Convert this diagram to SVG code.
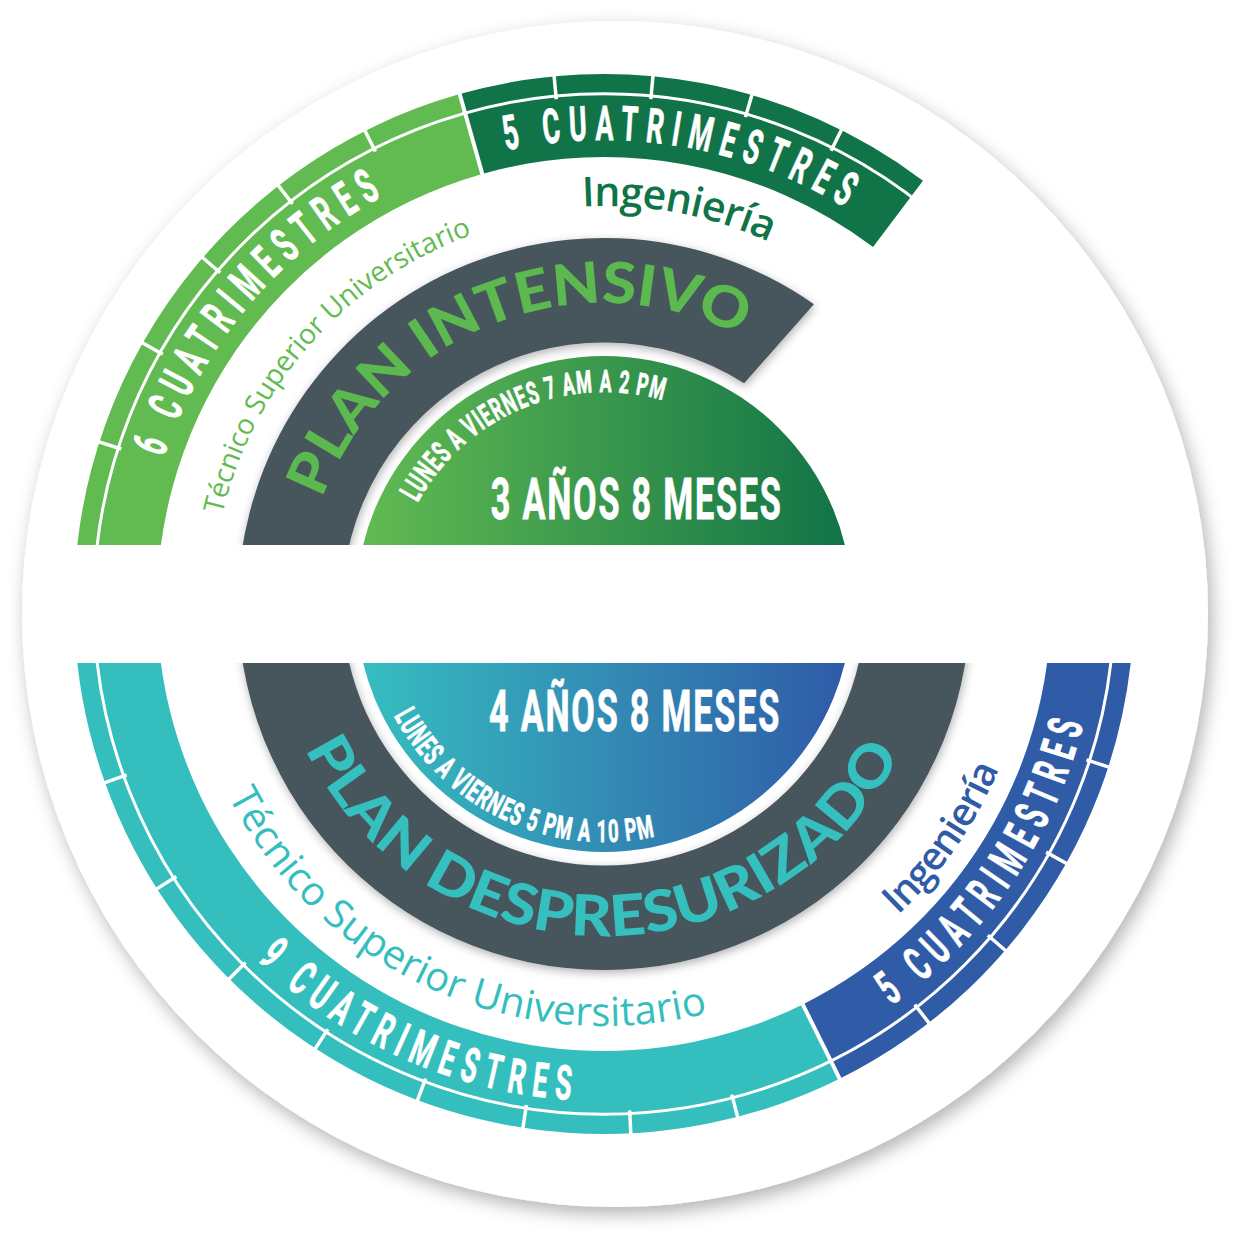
<svg xmlns="http://www.w3.org/2000/svg" width="1237" height="1236" viewBox="0 0 1237 1236">
<defs>
<style>
.cond{font-family:Roboto,'Liberation Sans',sans-serif;font-weight:700;fill:#ffffff;stroke:#ffffff;stroke-width:0.8}
.lbl{font-family:'Open Sans','Liberation Sans',sans-serif;font-weight:500}
.ing{font-family:'Open Sans','Liberation Sans',sans-serif;font-weight:600}
.plan{font-family:Lato,'Liberation Sans',sans-serif;font-weight:900}
.tick{stroke:#ffffff;stroke-width:3.5;fill:none}
.ring{stroke:#ffffff;stroke-width:3;fill:none}
.sep{stroke:#ffffff;stroke-width:4;fill:none}
</style>
<filter id="bgShadow" x="-10%" y="-10%" width="120%" height="120%"><feDropShadow dx="4" dy="7" stdDeviation="9" flood-color="#000000" flood-opacity="0.3"/></filter>
<filter id="bandShadow" x="-15%" y="-15%" width="130%" height="130%"><feDropShadow dx="1" dy="3" stdDeviation="5" flood-color="#000000" flood-opacity="0.3"/></filter>
<clipPath id="clipTop"><rect x="0" y="0" width="1237" height="545"/></clipPath>
<clipPath id="clipBot"><rect x="0" y="663" width="1237" height="573"/></clipPath>
<linearGradient id="gradGreen" gradientUnits="userSpaceOnUse" x1="360" y1="0" x2="848" y2="0"><stop offset="0" stop-color="#62bb52"/><stop offset="1" stop-color="#117347"/></linearGradient>
<linearGradient id="gradBlue" gradientUnits="userSpaceOnUse" x1="360" y1="0" x2="848" y2="0"><stop offset="0" stop-color="#36bec0"/><stop offset="1" stop-color="#2f5aa8"/></linearGradient>
<path id="tp6" d="M163.72 457.54 A464 464 0 0 1 445.30 167.98"/>
<path id="tp5a" d="M505.95 150.48 A464 464 0 0 1 902.25 248.56"/>
<path id="tpTec1" d="M222.36 514.49 A392 392 0 0 1 509.17 223.64"/>
<path id="tpIng1" d="M582.48 206.58 A398 398 0 0 1 803 259.32"/>
<path id="tpPlan1" d="M322.06 498.59 A301 301 0 0 1 776.65 357.44"/>
<path id="tpLun1" d="M417.69 502.84 A212 212 0 0 1 683.42 407.44"/>
<path id="tp9" d="M256.95 959.76 A497 497 0 0 0 647.32 1099.11"/>
<path id="tp5b" d="M891.57 1005.67 A494 494 0 0 0 1096.12 647.06"/>
<path id="tpTec2" d="M228.33 796.24 A422 422 0 0 0 748.33 1000.55"/>
<path id="tpIng2" d="M898.07 914.97 A428 428 0 0 0 1017.42 714.77"/>
<path id="tpPlan2" d="M305.35 749.02 A332 332 0 0 0 915.98 717.55"/>
<path id="tpLun2" d="M393.86 715.73 A238 238 0 0 0 685.40 827.65"/>
</defs>

<rect x="0" y="0" width="1237" height="1236" fill="#ffffff"/>
<g id="background-circle">
<circle cx="615" cy="614" r="593" fill="#ffffff" filter="url(#bgShadow)"/>
</g>

<g id="plan-intensivo">
<g id="top-outer-bands" clip-path="url(#clipTop)">
<path fill="#61bb51" d="M76.02 650.19 A530 530 0 0 1 459.69 94.02 L482.29 173.89 A447 447 0 0 0 158.70 642.96 Z"/>
<path fill="#117448" d="M459.69 94.02 A530 530 0 0 1 922.96 180.72 L873.01 247.01 A447 447 0 0 0 482.29 173.89 Z"/>
<circle class="ring" cx="604" cy="604" r="510.2"/>
<path class="sep" d="M484.20 180.62 L458.06 88.25"/>
<path class="tick" d="M121.27 449.01 L96.51 441.06 M162.73 354.34 L140.10 341.54 M220.20 272.72 L200.52 255.73 M292.56 203.94 L276.58 183.42 M375.40 151.46 L363.68 128.25"/>
<path class="tick" d="M556.29 99.25 L553.84 73.37 M650.83 99.17 L653.23 73.28 M745.45 117.13 L752.70 92.17 M831.01 150.67 L842.66 127.42"/>
</g>
<g id="top-gray-band" clip-path="url(#clipTop)">
<path fill="#46545b" filter="url(#bandShadow)" d="M239.39 635.90 A366 366 0 0 1 813.93 304.19 L744.12 383.21 A261.5 261.5 0 0 0 343.50 626.79 Z"/>
</g>
<g id="top-disc" clip-path="url(#clipTop)">
<circle cx="604" cy="604" r="248" fill="url(#gradGreen)"/>
</g>
<g id="top-texts">
<text class="cond" font-size="48" letter-spacing="15"><textPath href="#tp6" textLength="356" lengthAdjust="spacingAndGlyphs">6 CUATRIMESTRES</textPath></text>
<text class="cond" font-size="48" letter-spacing="15"><textPath href="#tp5a" textLength="360" lengthAdjust="spacingAndGlyphs">5 CUATRIMESTRES</textPath></text>
<text class="lbl" font-size="28" fill="#61bb51"><textPath href="#tpTec1" textLength="390.7" lengthAdjust="spacing">Técnico Superior Universitario</textPath></text>
<text class="ing" font-size="41" fill="#117448"><textPath href="#tpIng1" textLength="191.7" lengthAdjust="spacing">Ingeniería</textPath></text>
<text class="plan" font-size="57" fill="#5cb94f"><textPath href="#tpPlan1" textLength="506.4" lengthAdjust="spacingAndGlyphs">PLAN INTENSIVO</textPath></text>
<text class="cond" font-size="31" letter-spacing="2"><textPath href="#tpLun1" textLength="288" lengthAdjust="spacingAndGlyphs">LUNES A VIERNES 7 AM A 2 PM</textPath></text>
<text class="cond" font-size="57" letter-spacing="3" x="490.7" y="518.5" textLength="292" lengthAdjust="spacingAndGlyphs">3 AÑOS 8 MESES</text>
</g>
</g>

<g id="plan-despresurizado">
<g id="bottom-outer-bands" clip-path="url(#clipBot)">
<path fill="#34bebe" d="M76.02 557.81 A530 530 0 0 0 839.66 1078.73 L802.75 1004.38 A447 447 0 0 1 158.70 565.04 Z"/>
<path fill="#305ba7" d="M839.66 1078.73 A530 530 0 0 0 1131.98 557.81 L1049.30 565.04 A447 447 0 0 1 802.75 1004.38 Z"/>
<circle class="ring" cx="604" cy="604" r="510.2"/>
<path class="sep" d="M799.64 998.11 L842.33 1084.10"/>
<path class="tick" d="M731.80 1094.63 L738.35 1119.79 M629.65 1110.35 L630.96 1136.32 M526.43 1105.03 L522.46 1130.73 M425.62 1078.58 L416.47 1102.92 M327.87 1029.21 L313.71 1051.01 M245.50 962.50 L227.11 980.89 M176.40 876.41 L154.47 890.38 M126.67 774.91 L102.20 783.67"/>
<path class="tick" d="M1086.46 759.83 L1111.20 767.82 M1046.14 852.12 L1068.81 864.84 M987.80 935.28 L1007.48 952.27 M914.74 1004.61 L930.68 1025.16"/>
</g>
<g id="bottom-gray-band" clip-path="url(#clipBot)">
<path fill="#46545b" filter="url(#bandShadow)" d="M239.39 572.10 A366 366 0 1 0 968.61 572.10 L864.50 581.21 A261.5 261.5 0 1 1 343.50 581.21 Z"/>
</g>
<g id="bottom-disc" clip-path="url(#clipBot)">
<circle cx="604" cy="604" r="248" fill="url(#gradBlue)"/>
</g>
<g id="bottom-texts">
<text class="cond" font-size="48" letter-spacing="15"><textPath href="#tp9" textLength="359" lengthAdjust="spacingAndGlyphs">9 CUATRIMESTRES</textPath></text>
<text class="cond" font-size="48" letter-spacing="15"><textPath href="#tp5b" textLength="356" lengthAdjust="spacingAndGlyphs">5 CUATRIMESTRES</textPath></text>
<text class="lbl" font-size="40" fill="#34bebe"><textPath href="#tpTec2" textLength="567.9" lengthAdjust="spacing">Técnico Superior Universitario</textPath></text>
<text class="ing" font-size="39" fill="#305ba7"><textPath href="#tpIng2" textLength="179.3" lengthAdjust="spacing">Ingeniería</textPath></text>
<text class="plan" font-size="57" fill="#35bfbf"><textPath href="#tpPlan2" textLength="736.5" lengthAdjust="spacingAndGlyphs">PLAN DESPRESURIZADO</textPath></text>
<text class="cond" font-size="31" letter-spacing="2"><textPath href="#tpLun2" textLength="310" lengthAdjust="spacingAndGlyphs">LUNES A VIERNES 5 PM A 10 PM</textPath></text>
<text class="cond" font-size="57" letter-spacing="3" x="489" y="730.5" textLength="292" lengthAdjust="spacingAndGlyphs">4 AÑOS 8 MESES</text>
</g>
</g>
</svg>
